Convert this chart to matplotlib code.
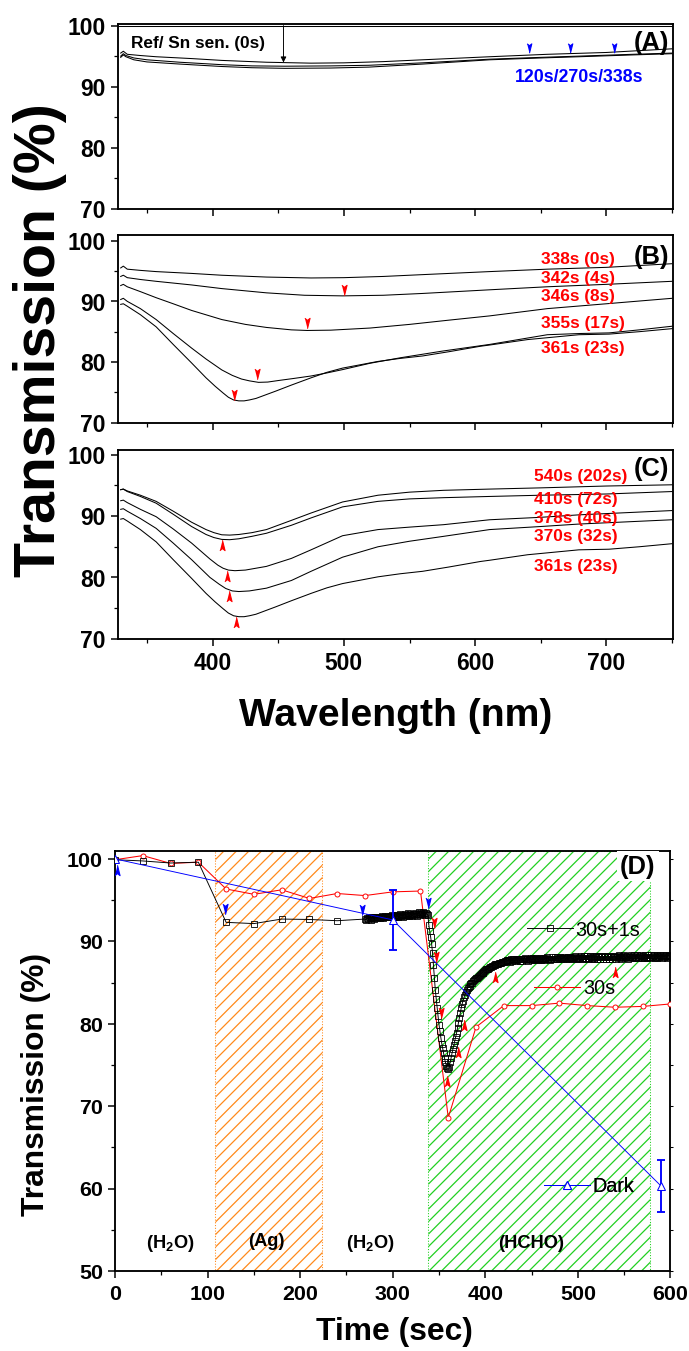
import numpy as np
import matplotlib
matplotlib.use("Agg")
import matplotlib.pyplot as plt
from matplotlib.ticker import MultipleLocator

plt.rcParams["font.family"] = ["Liberation Sans", "DejaVu Sans"]
plt.rcParams["font.weight"] = "bold"
plt.rcParams["mathtext.fontset"] = "custom"
plt.rcParams["mathtext.rm"] = "Liberation Sans:bold"
plt.rcParams["mathtext.bf"] = "Liberation Sans:bold"
plt.rcParams["mathtext.it"] = "Liberation Sans:bold:italic"
plt.rcParams["hatch.linewidth"] = 1.2
plt.rcParams["axes.linewidth"] = 1.8

# ---------------------------------------------------------------- spectra data
# (A) reference and Sn sensitised film
wl_ref = [328, 751]
T_ref = [100.0, 100.0]
wl_a120 = [330, 332, 334, 340, 350, 375, 407, 430, 455, 490, 519, 560, 611, 650, 679, 720, 750]
T_a120 = [94.8, 95.2, 94.9, 94.4, 94.05, 93.7, 93.3, 93.1, 93.0, 93.05, 93.2, 93.7, 94.4, 94.7, 94.9, 95.2, 95.4]
wl_a270 = [330, 332, 334, 340, 350, 375, 407, 430, 455, 490, 519, 560, 611, 650, 679, 720, 750]
T_a270 = [95.0, 95.4, 95.1, 94.7, 94.4, 94.0, 93.6, 93.4, 93.35, 93.4, 93.5, 93.9, 94.5, 94.8, 95.0, 95.3, 95.5]

# (B) first seconds in HCHO
wl_338 = [330, 332, 335, 345, 357, 384, 407, 441, 475, 500, 530, 560, 611, 655, 700, 750]
T_338 = [95.5, 95.8, 95.3, 95.1, 94.9, 94.6, 94.3, 94.0, 93.85, 93.9, 94.1, 94.4, 94.9, 95.3, 95.6, 96.2]
wl_342 = [330, 332, 335, 345, 357, 384, 407, 441, 470, 499, 530, 560, 611, 655, 700, 750]
T_342 = [94.1, 94.3, 93.9, 93.6, 93.3, 92.7, 92.1, 91.4, 91.0, 90.9, 91.0, 91.3, 91.9, 92.4, 92.8, 93.3]
wl_346 = [330, 332, 335, 345, 357, 370, 384, 407, 425, 441, 460, 472, 490, 520, 550, 580, 611, 655, 700, 750]
T_346 = [92.6, 92.8, 92.4, 91.6, 90.6, 89.6, 88.5, 87.0, 86.2, 85.7, 85.3, 85.2, 85.25, 85.6, 86.2, 86.9, 87.6, 88.8, 89.6, 90.5]
wl_355 = [330, 332, 335, 345, 357, 370, 384, 395, 407, 415, 422, 428, 435, 442, 450, 462, 475, 487, 499,
          520, 543, 575, 611, 655, 680, 702, 725, 750]
T_355 = [90.3, 90.5, 90.0, 88.8, 87.0, 84.7, 82.3, 80.5, 78.7, 77.8, 77.2, 76.9, 76.65, 76.7, 76.95, 77.3,
         77.7, 78.2, 78.75, 79.8, 80.7, 81.8, 82.9, 84.5, 84.7, 84.8, 85.3, 85.9]
wl_361 = [330, 332, 335, 345, 357, 370, 384, 395, 402, 408, 412, 416, 420, 424, 428, 433, 438, 448, 460,
          475, 487, 499, 526, 543, 560, 580, 604, 611, 640, 679, 702, 725, 750]
T_361 = [89.5, 89.6, 89.2, 87.8, 85.8, 82.9, 79.85, 77.4, 76.0, 74.9, 74.2, 73.75, 73.6, 73.6, 73.75, 74.0,
         74.4, 75.2, 76.2, 77.4, 78.3, 79.0, 80.1, 80.6, 81.0, 81.7, 82.6, 82.8, 83.7, 84.5, 84.6, 85.0, 85.5]

# (C) recovery in HCHO
wl_370 = [330, 332, 335, 345, 357, 370, 384, 398, 405, 410, 415, 420, 428, 441, 460, 475, 499, 526, 550,
          576, 611, 650, 679, 750]
T_370 = [91.1, 91.2, 90.8, 89.6, 88.0, 85.6, 82.9, 80.0, 78.9, 78.2, 77.8, 77.7, 77.8, 78.25, 79.5, 81.0,
         83.3, 85.0, 85.9, 86.7, 87.8, 88.3, 88.7, 89.4]
wl_378 = [330, 332, 335, 345, 357, 370, 384, 398, 404, 408, 412, 417, 425, 441, 460, 475, 499, 526, 550,
          576, 611, 650, 679, 750]
T_378 = [92.5, 92.6, 92.2, 91.1, 89.9, 87.9, 85.6, 83.0, 82.0, 81.5, 81.2, 81.1, 81.2, 81.8, 83.1, 84.5,
         86.8, 87.8, 88.2, 88.6, 89.4, 89.8, 90.2, 90.9]
wl_410 = [330, 332, 335, 345, 357, 370, 384, 395, 401, 407, 413, 420, 430, 441, 460, 475, 499, 526, 550,
          576, 611, 650, 700, 750]
T_410 = [94.3, 94.4, 94.0, 93.2, 92.1, 90.3, 88.3, 87.0, 86.5, 86.2, 86.15, 86.3, 86.7, 87.2, 88.5, 89.7,
         91.5, 92.4, 92.8, 93.0, 93.2, 93.4, 93.6, 94.0]
wl_540 = [330, 332, 335, 345, 357, 370, 384, 395, 401, 407, 413, 420, 430, 441, 460, 475, 499, 526, 550,
          576, 611, 650, 700, 750]
T_540 = [94.3, 94.4, 94.1, 93.4, 92.4, 90.8, 89.0, 87.8, 87.3, 86.95, 86.9, 87.0, 87.3, 87.8, 89.3, 90.5,
         92.3, 93.4, 93.9, 94.2, 94.4, 94.6, 94.9, 95.1]

# arrow marks on the spectra (wavelength, transmission)
a_marks_wl = [641, 672, 706]
a_marks_T = [96.4, 96.4, 96.4]
b_marks_wl = [500, 472, 434, 416]
b_marks_T = [91.9, 86.4, 78.1, 74.6]
c_marks_wl = [407, 411, 412.5, 417.5]
c_marks_T = [85.3, 80.3, 77.05, 72.7]

b_labels = ["338s (0s)", "342s (4s)", "346s (8s)", "355s (17s)", "361s (23s)"]
b_label_T = [96.9, 93.85, 90.8, 86.4, 82.3]
c_labels = ["540s (202s)", "410s (72s)", "378s (40s)", "370s (32s)", "361s (23s)"]
c_label_T = [96.5, 92.7, 89.7, 86.7, 81.9]

# ---------------------------------------------------------------- time trace data
# 30 s sampling
t_30 = [0, 30, 60, 90, 120, 150, 180, 210, 240, 270, 300, 330, 360, 390, 420, 450, 480, 510, 540, 570, 600]
v_30 = [99.9, 100.4, 99.45, 99.6, 96.35, 95.7, 96.25, 95.2, 95.8, 95.55, 96.0, 96.1,
        68.6, 79.6, 82.2, 82.2, 82.5, 82.2, 82.0, 82.1, 82.4]

# 30 s sampling followed by 1 s sampling from 270 s
t_slow = [0, 30, 60, 90, 120, 150, 180, 210, 240]
v_slow = [99.9, 99.75, 99.5, 99.6, 92.3, 92.15, 92.7, 92.65, 92.5]
fast_start_1 = 270
v_fast_1 = [92.7, 92.6, 92.8, 92.7, 92.9, 92.8, 92.6, 92.8, 93.0, 92.8,
            92.7, 92.9, 93.0, 92.8, 92.9, 93.0, 92.8, 92.9, 93.1, 92.9,
            92.8, 93.0, 93.1, 92.9, 93.0, 93.1, 92.9, 93.0, 93.1, 93.2,
            93.0, 93.1, 93.2, 92.9, 93.1, 93.2, 93.0, 93.1, 93.3, 93.1,
            93.2, 93.0, 93.2, 93.3, 93.1, 93.2, 93.4, 93.2, 93.1, 93.3,
            93.2, 93.1, 93.3, 93.2, 93.4, 93.3, 93.1, 93.3, 93.5, 93.3,
            93.2, 93.4, 93.3, 93.5, 93.4, 93.2, 93.4, 93.3]
fast_start_2 = 338
v_fast_2 = [93.2, 92.0, 91.2, 90.5, 89.7, 88.6, 87.1, 85.6, 84.1, 83.0,
            81.9, 80.9, 79.9, 79.1, 78.3, 77.6, 77.0, 76.4, 75.8, 75.3,
            74.9, 74.6, 74.5,
            74.8, 75.3, 75.8, 76.4, 76.9, 77.4, 77.9, 78.4, 78.9, 79.5,
            80.1, 80.7, 81.3, 81.9, 82.4, 82.8, 83.2, 83.5, 83.8, 84.1,
            84.3, 84.5, 84.6, 84.8, 84.9, 85.0, 85.2, 85.3, 85.4, 85.5,
            85.6, 85.7, 85.8, 85.9, 86.0, 86.1, 86.2, 86.3, 86.4, 86.5,
            86.6, 86.6, 86.7, 86.8, 86.9, 86.9, 87.0, 87.0, 87.1, 87.1,
            87.2, 87.2, 87.3, 87.3, 87.4, 87.4, 87.4, 87.5, 87.5, 87.5,
            87.6, 87.6, 87.6, 87.7, 87.7]
fast_start_3 = 426
v_fast_3 = [87.7, 87.5, 87.8, 87.6, 87.9, 87.7, 87.6, 87.9, 87.7, 87.8,
            87.9, 87.6, 87.8, 87.9, 87.6, 87.8, 87.9, 88.0, 87.7, 87.8,
            87.6, 87.9, 87.8, 88.0, 87.7, 87.8, 88.0, 87.7, 87.8, 88.0,
            87.9, 87.7, 87.9, 88.0, 87.7, 87.9, 88.0, 87.7, 87.9, 88.0,
            87.8, 88.1, 87.9, 87.8, 87.7, 87.9, 88.1, 87.8, 87.9, 88.1,
            87.8, 87.9, 88.1, 87.8, 88.0, 88.1, 87.8, 88.0, 87.9, 88.1,
            88.0, 87.8, 88.0, 88.1, 87.8, 88.0, 88.1, 88.0, 87.8, 88.0,
            88.1, 88.2, 87.9, 88.0, 87.8, 88.0, 88.1, 88.2, 87.9, 88.0,
            88.0, 88.2, 87.9, 88.0, 88.2, 87.9, 88.0, 88.2, 88.1, 87.9,
            88.0, 88.2, 87.9, 88.1, 88.2, 87.9, 88.1, 88.2, 87.9, 88.1,
            88.2, 87.9, 88.1, 88.2, 87.9, 88.1, 88.2, 88.1, 87.9, 88.1,
            88.2, 87.9, 88.1, 88.2, 88.1, 87.9, 88.1, 88.2, 88.3, 88.0,
            88.1, 87.9, 88.1, 88.2, 88.3, 88.0, 88.1, 88.2, 87.9, 88.1,
            88.1, 88.3, 88.0, 88.1, 88.2, 88.3, 88.0, 88.1, 88.3, 88.0,
            88.1, 88.2, 88.3, 88.0, 88.2, 88.1, 88.0, 88.3, 88.1, 88.0,
            88.3, 88.1, 88.0, 88.3, 88.1, 88.2, 88.3, 88.0, 88.1, 88.3,
            88.0, 88.2, 88.1, 88.3, 88.2, 88.0, 88.3, 88.1, 88.2, 88.3,
            88.0, 88.2, 88.3, 88.1, 88.2]

# dark measurement
t_dark = [0, 300, 590]
v_dark = [100.0, 92.6, 60.3]
t_dark_err = [300, 590]
v_dark_err = [92.6, 60.3]
e_dark = [3.6, 3.2]

# arrows on the time trace (time, transmission)
blue_up_t, blue_up_v = [2.5], [98.7]
blue_dn_t, blue_dn_v = [119, 267, 338], [93.9, 93.8, 94.6]
red_dn_t, red_dn_v = [345, 347, 352], [92.2, 88.1, 81.3]
red_up_t, red_up_v = [359, 370, 377.5, 411, 540], [73.0, 76.6, 79.9, 85.7, 86.3]

# exposure windows
ag_window = (108, 224)
hcho_window = (338, 578)
region_names = ["(H$_\\mathbf{2}$O)", "(Ag)", "(H$_\\mathbf{2}$O)", "(HCHO)"]
region_t = [60, 163, 276, 449]
region_v = [53.4, 53.6, 53.4, 53.4]

# ---------------------------------------------------------------- figure
DPI = 75
W, H = 689, 1351
fig = plt.figure(figsize=((W + 0.4) / DPI, (H + 0.4) / DPI), dpi=DPI)


def frame(left, right, top, bottom):
    return [left / W, 1 - bottom / H, (right - left) / W, (bottom - top) / H]


DOWN = [(-0.25, 0.5), (0.0, 0.3), (0.25, 0.5), (0.0, -0.5)]
UP = [(x, -y) for x, y in DOWN]


def style_axes(ax, labelsize, xlabels=True):
    ax.tick_params(which="major", direction="out", length=6.7, width=1.45,
                   labelsize=labelsize, pad=5)
    ax.tick_params(which="minor", direction="out", length=3.8, width=1.2)
    ax.tick_params(axis="x", which="major", pad=6, labelbottom=xlabels)
    ax.tick_params(top=False, right=False)


def spectrum_axes(rect, ylim, xlabels):
    ax = fig.add_axes(rect)
    ax.set_xlim(328, 751)
    ax.set_ylim(*ylim)
    ax.xaxis.set_major_locator(MultipleLocator(100))
    ax.xaxis.set_minor_locator(MultipleLocator(50))
    ax.yaxis.set_major_locator(MultipleLocator(10))
    ax.yaxis.set_minor_locator(MultipleLocator(5))
    style_axes(ax, 22, xlabels)
    return ax


line_kw = dict(color="black", lw=1.0)

# (A)
axA = spectrum_axes(frame(118, 673, 24.8, 209), (70, 100.2), False)
axA.plot(wl_ref, T_ref, **line_kw)
axA.plot(wl_a120, T_a120, **line_kw)
axA.plot(wl_a270, T_a270, **line_kw)
axA.plot(wl_338, T_338, **line_kw)
axA.plot(a_marks_wl, a_marks_T, ls="none", marker=DOWN, ms=9, color="blue")
axA.text(338, 97.2, "Ref/ Sn sen. (0s)", fontsize=16.5, ha="left", va="center")
axA.annotate("", xy=(454, 93.95), xytext=(454, 100.0),
             arrowprops=dict(arrowstyle="-|>", color="black", lw=0.9,
                             mutation_scale=11, shrinkA=0, shrinkB=0))
axA.text(679, 91.5, "120s/270s/338s", fontsize=17, color="blue", ha="center", va="center")
axA.text(748, 97.2, "(A)", fontsize=24.5, ha="right", va="center")

# (B)
axB = spectrum_axes(frame(118, 673, 234.9, 423), (70, 101), False)
for wl, T in [(wl_338, T_338), (wl_342, T_342), (wl_346, T_346), (wl_355, T_355), (wl_361, T_361)]:
    axB.plot(wl, T, **line_kw)
axB.plot(b_marks_wl, b_marks_T, ls="none", marker=DOWN, ms=10, color="red")
for lab, y in zip(b_labels, b_label_T):
    axB.text(650, y, lab, fontsize=16.5, color="red", ha="left", va="center")
axB.text(748, 97.4, "(B)", fontsize=24.5, ha="right", va="center")

# (C)
axC = spectrum_axes(frame(118, 673, 450.7, 639), (70, 100.7), True)
for wl, T in [(wl_540, T_540), (wl_410, T_410), (wl_378, T_378), (wl_370, T_370), (wl_361, T_361)]:
    axC.plot(wl, T, **line_kw)
axC.plot(c_marks_wl, c_marks_T, ls="none", marker=UP, ms=10, color="red")
for lab, y in zip(c_labels, c_label_T):
    axC.text(645, y, lab, fontsize=16.5, color="red", ha="left", va="center")
axC.text(748, 97.7, "(C)", fontsize=24.5, ha="right", va="center")

fig.text(40 / W, 1 - 340 / H, "Transmission (%)", rotation=90, fontsize=55,
         ha="center", va="center")
fig.text(395 / W, 1 - 716 / H, "Wavelength (nm)", fontsize=37.5, ha="center", va="center")

# (D)
axD = fig.add_axes(frame(115, 670, 850.8, 1271))
axD.set_xlim(0, 600)
axD.set_ylim(50, 101)
axD.xaxis.set_major_locator(MultipleLocator(100))
axD.xaxis.set_minor_locator(MultipleLocator(50))
axD.yaxis.set_major_locator(MultipleLocator(10))
axD.yaxis.set_minor_locator(MultipleLocator(5))
style_axes(axD, 20.5, True)

axD.axvspan(*ag_window, facecolor="none", edgecolor="#ff8a1c", hatch="//",
            linestyle=":", linewidth=1.0, zorder=0.5)
axD.axvspan(*hcho_window, facecolor="none", edgecolor="#22d022", hatch="//",
            linestyle=":", linewidth=1.0, zorder=0.5)

t_fast = np.concatenate([np.arange(fast_start_1, fast_start_1 + len(v_fast_1)),
                         np.arange(fast_start_2, fast_start_2 + len(v_fast_2)),
                         np.arange(fast_start_3, fast_start_3 + len(v_fast_3))])
t_black = np.concatenate([t_slow, t_fast])
v_black = np.concatenate([v_slow, v_fast_1, v_fast_2, v_fast_3])

h30, = axD.plot(t_30, v_30, color="red", lw=1.0, marker="o", ms=4.8, mfc="white",
                mec="red", mew=0.9, zorder=3)
hfast, = axD.plot(t_black, v_black, color="black", lw=0.9, marker="s", ms=5.0,
                  mfc="none", mec="black", mew=0.8, zorder=4)
hdark, = axD.plot(t_dark, v_dark, color="blue", lw=0.9, marker="^", ms=8.5,
                  mfc="white", mec="blue", mew=1.0, zorder=5)
axD.errorbar(t_dark_err, v_dark_err, yerr=e_dark, fmt="none", ecolor="blue",
             elinewidth=1.8, capsize=3.5, capthick=1.8, zorder=4.5)

axD.plot(blue_up_t, blue_up_v, ls="none", marker=UP, ms=10, color="blue", zorder=6)
axD.plot(blue_dn_t, blue_dn_v, ls="none", marker=DOWN, ms=10, color="blue", zorder=6)
axD.plot(red_dn_t, red_dn_v, ls="none", marker=DOWN, ms=10, color="red", zorder=6)
axD.plot(red_up_t, red_up_v, ls="none", marker=UP, ms=10, color="red", zorder=6)

for name, t, v in zip(region_names, region_t, region_v):
    axD.text(t, v, name, fontsize=17.5, ha="center", va="center")

axD.text(565, 99.1, "(D)", fontsize=24.5, ha="center", va="center", zorder=10,
         bbox=dict(facecolor="white", edgecolor="none", pad=3))

leg_kw = dict(loc="center left", frameon=False, borderpad=0, borderaxespad=0,
              handlelength=2.3, handletextpad=0.15, numpoints=1,
              prop=dict(size=19, weight="normal"))
for handle, text, anchor in [(hfast, "30s+1s", (0.742, 0.812)),
                             (h30, "30s", (0.755, 0.6725)),
                             (hdark, "Dark", (0.773, 0.202))]:
    leg = axD.legend([handle], [text], bbox_to_anchor=anchor, **leg_kw)
    axD.add_artist(leg)

# short outward ticks on the right spine
axR = axD.twinx()
axR.set_ylim(50, 101)
axR.yaxis.set_major_locator(MultipleLocator(5))
axR.tick_params(axis="y", direction="out", length=3, width=1.0, labelright=False)
for sp in axR.spines.values():
    sp.set_visible(False)

fig.text(36 / W, 1 - 1084 / H, "Transmission (%)", rotation=90, fontsize=30.5,
         ha="center", va="center")
fig.text(394 / W, 1 - 1332 / H, "Time (sec)", fontsize=30.5, ha="center", va="center")

fig.savefig("out.png", dpi=DPI)
